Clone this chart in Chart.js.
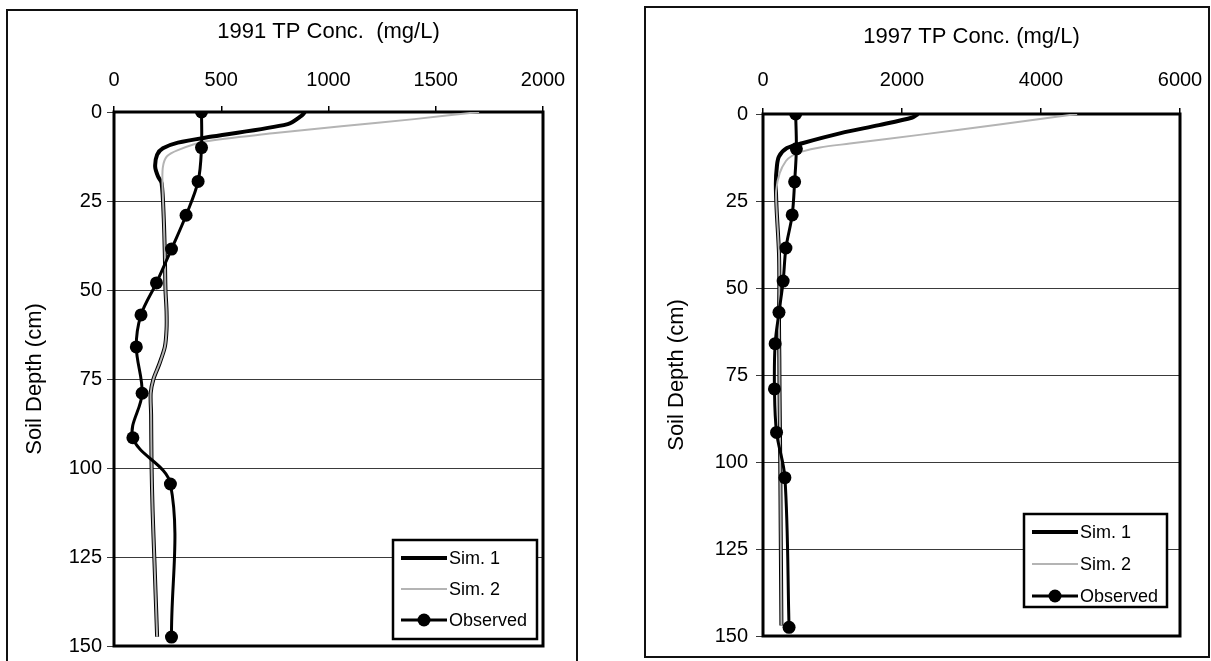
<!DOCTYPE html>
<html>
<head>
<meta charset="utf-8">
<script src="https://cdn.jsdelivr.net/npm/chart.js@4.4.1/dist/chart.umd.min.js"></script>
<style>
  html, body { margin: 0; padding: 0; background: #fff; overflow: hidden; }
  .panel { position: absolute; border: 2px solid #111; box-sizing: border-box; background: #fff; }
  #p1 { left: 6px; top: 9px; width: 572px; height: 670px; }
  #p2 { left: 644px; top: 6px; width: 566px; height: 652px; }
  canvas { display: block; position: absolute; left: 0; top: 0; }
</style>
</head>
<body>
<div class="panel" id="p1"><canvas id="c1" width="590" height="666"></canvas></div>
<div class="panel" id="p2"><canvas id="c2" width="590" height="648"></canvas></div>
<script>
// sampling depths of the observed profile (cm)
const obsDepth = [0, 10, 19.5, 29, 38.5, 48, 57, 66, 79, 91.5, 104.5, 147.5];

// 1991
const obs91 = [408, 408, 392, 336, 268, 198, 126, 104, 131, 88, 263, 268];
const sim1Depth91 = [0, 1, 3.4, 6.9, 8.6, 10.2, 12, 15.4, 18.2, 20, 30, 40, 50, 56, 61, 66, 71, 75, 79, 85, 99, 112, 127, 147.4];
const sim1Conc91 = [890, 875, 810, 457, 298, 228, 201, 192, 206, 222, 232, 237, 240, 245, 245, 237, 210, 184, 171, 173, 175, 180, 189, 201];
const sim2Depth91 = [0, 2, 4, 6, 8.3, 10.7, 12.5, 15.4, 20, 30, 40, 50, 56, 61, 66, 71, 75, 79, 85, 99, 112, 127, 147.4];
const sim2Conc91 = [1702, 1400, 1060, 740, 422, 298, 246, 228, 226, 232, 237, 240, 245, 245, 237, 210, 184, 171, 173, 175, 180, 189, 201];
const xTicks91 = [0, 500, 1000, 1500, 2000];

// 1997
const obs97 = [470, 480, 455, 420, 330, 290, 230, 175, 165, 195, 315, 375];
const sim1Depth97 = [0, 1, 3.2, 5.5, 8.4, 9.8, 12.2, 15, 20, 27, 40, 50, 60, 70, 80, 100, 120, 147];
const sim1Conc97 = [2230, 2150, 1670, 1120, 565, 345, 230, 200, 185, 195, 230, 235, 230, 235, 238, 248, 255, 265];
const sim2Depth97 = [0, 3, 6, 8.5, 9.6, 10.8, 12, 13.5, 17, 22, 27, 40, 50, 60, 70, 80, 100, 120, 147];
const sim2Conc97 = [4520, 3400, 2250, 1250, 820, 560, 420, 330, 240, 190, 195, 230, 235, 230, 235, 238, 248, 255, 265];
const xTicks97 = [0, 2000, 4000, 6000];

const depthTicks = [0, 25, 50, 75, 100, 125, 150];

const FONT = '"Liberation Sans", Arial, sans-serif';
Chart.defaults.font.family = FONT;
Chart.defaults.color = "#000";

function pts(conc, depth) {
  return conc.map((v, i) => ({ x: v, y: depth[i] }));
}

// thick frame around the plot area
const frame = {
  id: "frame",
  beforeDatasetsDraw(chart) {
    const { ctx, chartArea: a } = chart;
    ctx.save();
    ctx.strokeStyle = "#000";
    ctx.lineWidth = 3;
    ctx.strokeRect(a.left, a.top, a.right - a.left, a.bottom - a.top);
    ctx.restore();
  },
};

// boxed legend inside the plot, bottom right
const boxLegend = {
  id: "boxLegend",
  afterDatasetsDraw(chart, args, opts) {
    const { ctx, chartArea: a } = chart;
    const x = a.right - opts.right - opts.width;
    const y = a.bottom - opts.bottom - opts.height;
    ctx.save();
    ctx.fillStyle = "#fff";
    ctx.fillRect(x, y, opts.width, opts.height);
    ctx.strokeStyle = "#000";
    ctx.lineWidth = 2.5;
    ctx.strokeRect(x, y, opts.width, opts.height);
    chart.data.datasets.forEach((ds, i) => {
      const ry = y + opts.firstRow + i * opts.rowGap;
      ctx.strokeStyle = ds.borderColor;
      ctx.lineWidth = ds.borderWidth;
      ctx.beginPath();
      ctx.moveTo(x + 8, ry);
      ctx.lineTo(x + 54, ry);
      ctx.stroke();
      if (ds.pointRadius) {
        ctx.fillStyle = ds.pointBackgroundColor;
        ctx.beginPath();
        ctx.arc(x + 31, ry, ds.pointRadius, 0, Math.PI * 2);
        ctx.fill();
      }
      ctx.fillStyle = "#000";
      ctx.font = "18px " + FONT;
      ctx.textBaseline = "middle";
      ctx.textAlign = "left";
      ctx.fillText(ds.label, x + 56, ry + 1);
    });
    ctx.restore();
  },
};

function makeChart(id, cfg) {
  const ctx = document.getElementById(id).getContext("2d");
  return new Chart(ctx, {
    type: "scatter",
    data: {
      datasets: [
        {
          label: "Sim. 1",
          data: pts(cfg.sim1Conc, cfg.sim1Depth),
          showLine: true,
          borderColor: "#000",
          borderWidth: 4,
          pointRadius: 0,
          tension: 0.3,
          order: 3,
        },
        {
          label: "Sim. 2",
          data: pts(cfg.sim2Conc, cfg.sim2Depth),
          showLine: true,
          borderColor: "#b4b4b4",
          borderWidth: 2,
          pointRadius: 0,
          tension: 0.3,
          order: 2,
        },
        {
          label: "Observed",
          data: pts(cfg.obs, obsDepth),
          showLine: true,
          borderColor: "#000",
          borderWidth: 3,
          pointRadius: 6.5,
          pointBackgroundColor: "#000",
          pointBorderWidth: 0,
          tension: 0.35,
          order: 1,
        },
      ],
    },
    options: {
      responsive: false,
      animation: false,
      layout: { padding: cfg.padding },
      plugins: {
        legend: { display: false },
        tooltip: { enabled: false },
        boxLegend: cfg.legend,
      },
      scales: {
        x: {
          type: "linear",
          position: "top",
          min: cfg.xTicks[0],
          max: cfg.xTicks[cfg.xTicks.length - 1],
          afterBuildTicks: (s) => { s.ticks = cfg.xTicks.map((v) => ({ value: v })); },
          ticks: {
            font: { size: 20 },
            padding: cfg.xTickPad,
            maxRotation: 0,
            autoSkip: false,
            callback: (v) => String(v),
          },
          grid: { drawOnChartArea: false, tickLength: 6, color: "#000", lineWidth: 1.5 },
          border: { display: false },
          title: {
            display: true,
            text: cfg.title,
            font: { size: 22 },
            padding: { top: cfg.titlePad, bottom: 0 },
          },
          afterFit: (s) => { s.height = cfg.xHeight; },
        },
        y: {
          type: "linear",
          reverse: true,
          min: 0,
          max: 150,
          afterBuildTicks: (s) => { s.ticks = depthTicks.map((v) => ({ value: v })); },
          ticks: { font: { size: 20 }, padding: cfg.yTickPad, callback: (v) => String(v) },
          grid: { color: "#3a3a3a", lineWidth: 1, tickLength: 7 },
          border: { display: false },
          title: {
            display: true,
            text: "Soil Depth (cm)",
            font: { size: 22 },
            padding: { top: cfg.yTitlePad, bottom: 0 },
          },
          afterFit: (s) => { s.width = cfg.yWidth; },
        },
      },
    },
    plugins: [frame, boxLegend],
  });
}

makeChart("c1", {
  title: "1991 TP Conc.  (mg/L)",
  obs: obs91,
  sim1Conc: sim1Conc91, sim1Depth: sim1Depth91,
  sim2Conc: sim2Conc91, sim2Depth: sim2Depth91,
  xTicks: xTicks91,
  padding: { left: 0, top: 0, right: 55, bottom: 31 },
  xHeight: 101, yWidth: 106,
  xTickPad: 14, yTickPad: 5, titlePad: 8, yTitlePad: 14,
  legend: { right: 6, bottom: 7, width: 144, height: 99, firstRow: 18, rowGap: 31 },
});

makeChart("c2", {
  title: "1997 TP Conc. (mg/L)",
  obs: obs97,
  sim1Conc: sim1Conc97, sim1Depth: sim1Depth97,
  sim2Conc: sim2Conc97, sim2Depth: sim2Depth97,
  xTicks: xTicks97,
  padding: { left: 0, top: 0, right: 56, bottom: 19 },
  xHeight: 106, yWidth: 117,
  xTickPad: 16, yTickPad: 8, titlePad: 16, yTitlePad: 18,
  legend: { right: 13, bottom: 29, width: 143, height: 93, firstRow: 18, rowGap: 32 },
});
</script>
</body>
</html>
